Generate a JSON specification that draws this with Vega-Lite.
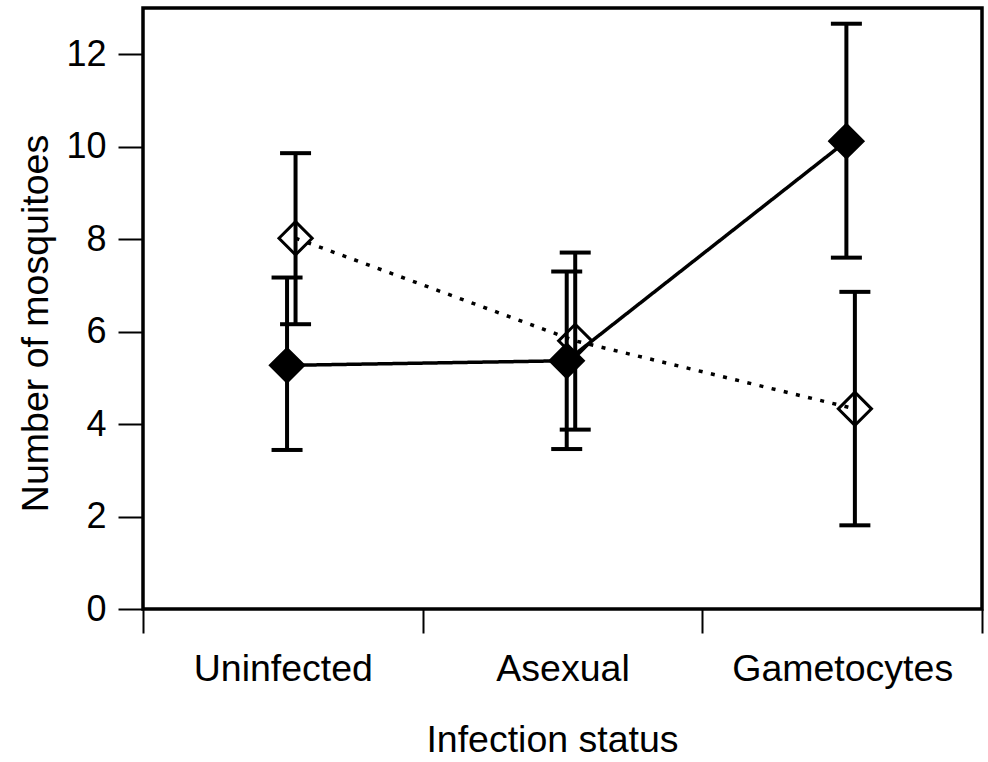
{
  "$schema": "https://vega.github.io/schema/vega-lite/v6.json",
  "width": 839,
  "height": 601,
  "autosize": {"type": "none"},
  "padding": {"left": 143, "top": 8, "right": 6, "bottom": 153},
  "background": "white",
  "config": {
    "view": {"stroke": "black", "strokeWidth": 3.5},
    "font": "Liberation Sans"
  },
  "data": {
    "values": [
      {"status": "Uninfected", "group": "Group A", "mean": 5.27, "lo": 3.44, "hi": 7.17},
      {"status": "Uninfected", "group": "Group B", "mean": 8.02, "lo": 6.16, "hi": 9.86},
      {"status": "Asexual", "group": "Group A", "mean": 5.37, "lo": 3.46, "hi": 7.30},
      {"status": "Asexual", "group": "Group B", "mean": 5.80, "lo": 3.88, "hi": 7.71},
      {"status": "Gametocytes", "group": "Group A", "mean": 10.12, "lo": 7.60, "hi": 12.66},
      {"status": "Gametocytes", "group": "Group B", "mean": 4.33, "lo": 1.81, "hi": 6.86}
    ]
  },
  "encoding": {
    "x": {
      "field": "status",
      "type": "nominal",
      "sort": ["Uninfected", "Asexual", "Gametocytes"],
      "scale": {"paddingInner": 0, "paddingOuter": 0},
      "axis": {
        "title": "Infection status",
        "domain": false,
        "grid": false,
        "tickBand": "extent",
        "tickSize": 24,
        "tickWidth": 2,
        "tickColor": "black",
        "labelAngle": 0,
        "labelLimit": 0,
        "labelOverlap": false,
        "labelFont": "Liberation Sans",
        "labelFontSize": 37.5,
        "labelColor": "black",
        "labelBaseline": "alphabetic",
        "labelPadding": 47,
        "titleFont": "Liberation Sans",
        "titleFontSize": 37.5,
        "titleFontWeight": "normal",
        "titleColor": "black",
        "titleX": 409,
        "titleY": 142,
        "titleBaseline": "alphabetic",
        "titleAlign": "center"
      }
    },
    "xOffset": {
      "field": "group",
      "type": "nominal",
      "scale": {"type": "point", "domain": ["Group A", "Group B"], "range": [139.8, 156.8]}
    }
  },
  "layer": [
    {
      "mark": {"type": "rule", "color": "black", "strokeWidth": 4},
      "encoding": {
        "y": {
          "field": "lo",
          "type": "quantitative",
          "scale": {"domain": [0, 13], "nice": false},
          "axis": {
            "title": "Number of mosquitoes",
            "values": [0, 2, 4, 6, 8, 10, 12],
            "domain": false,
            "grid": false,
            "tickSize": 25,
            "tickWidth": 2,
            "tickColor": "black",
            "labelFont": "Liberation Sans",
            "labelFontSize": 36,
            "labelColor": "black",
            "labelPadding": 12,
            "titleFont": "Liberation Sans",
            "titleFontSize": 37.5,
            "titleFontWeight": "normal",
            "titleColor": "black",
            "titleX": -96,
            "titleY": 315,
            "titleAngle": -90,
            "titleBaseline": "alphabetic",
            "titleAlign": "center"
          }
        },
        "y2": {"field": "hi"}
      }
    },
    {
      "mark": {"type": "tick", "color": "black", "size": 31, "thickness": 4, "opacity": 1},
      "encoding": {"y": {"field": "lo", "type": "quantitative"}}
    },
    {
      "mark": {"type": "tick", "color": "black", "size": 31, "thickness": 4, "opacity": 1},
      "encoding": {"y": {"field": "hi", "type": "quantitative"}}
    },
    {
      "mark": {"type": "line", "color": "black", "strokeWidth": 3.5},
      "encoding": {
        "y": {"field": "mean", "type": "quantitative"},
        "strokeDash": {
          "field": "group",
          "type": "nominal",
          "scale": {"domain": ["Group A", "Group B"], "range": [[1, 0], [4, 8.5]]},
          "legend": null
        }
      }
    },
    {
      "mark": {"type": "point", "shape": "diamond", "size": 1100, "filled": true, "fill": "black", "stroke": "black", "strokeWidth": 3, "opacity": 1},
      "encoding": {
        "y": {"field": "mean", "type": "quantitative"},
        "fillOpacity": {
          "field": "group",
          "type": "nominal",
          "scale": {"domain": ["Group A", "Group B"], "range": [1, 0]},
          "legend": null
        }
      }
    }
  ]
}
